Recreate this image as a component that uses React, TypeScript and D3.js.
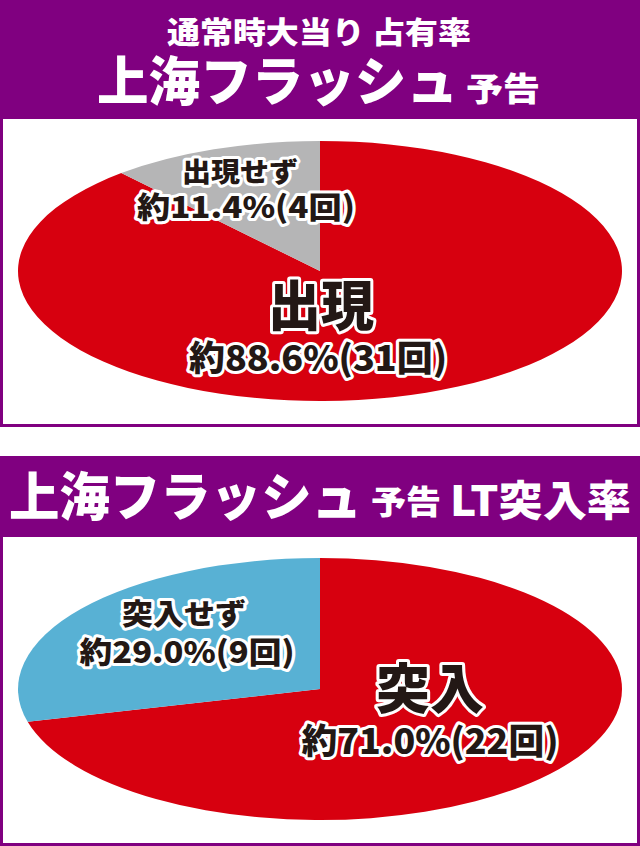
import React from "react";
import * as d3 from "d3";

const W = 640;
const H = 846;

const pie1Labels = ["出現", "出現せず"];
const pie1Values = [31, 4];
const pie1Pct = ["約88.6%(31回)", "約11.4%(4回)"];
const pie1Colors = ["#d7000f", "#b5b5b6"];

const pie2Labels = ["突入", "突入せず"];
const pie2Values = [22, 9];
const pie2Pct = ["約71.0%(22回)", "約29.0%(9回)"];
const pie2Colors = ["#d7000f", "#58b1d4"];

const PURPLE = "#800080";
const FONT = "'Noto Sans CJK JP', 'Noto Sans', sans-serif";
const DY = -3;

type Lbl = { text: string; cx: number; cy: number; size: number; len: number };

function OutlinedText({ text, cx, cy, size, len }: Lbl) {
  return (
    <text
      x={cx - len / 2}
      y={cy + DY}
      textLength={len}
      lengthAdjust="spacingAndGlyphs"
      dominantBaseline="central"
      fontFamily={FONT}
      fontWeight={900}
      fontSize={size}
      fill="#231815"
      stroke="#ffffff"
      strokeWidth={6}
      strokeLinejoin="round"
      paintOrder="stroke"
    >
      {text}
    </text>
  );
}

function HeaderText({ text, x0, x1, cy, size }: { text: string; x0: number; x1: number; cy: number; size: number }) {
  return (
    <text
      x={x0}
      y={cy + DY}
      textLength={x1 - x0}
      lengthAdjust="spacingAndGlyphs"
      dominantBaseline="central"
      fontFamily={FONT}
      fontWeight={900}
      fontSize={size}
      fill="#ffffff"
    >
      {text}
    </text>
  );
}

function Pie({
  values,
  colors,
  cx,
  cy,
  rx,
  ry,
}: {
  values: number[];
  colors: string[];
  cx: number;
  cy: number;
  rx: number;
  ry: number;
}) {
  const arcs = d3.pie<number>().sort(null).value((d) => d)(values);
  const arc = d3.arc<d3.PieArcDatum<number>>().innerRadius(0).outerRadius(rx);
  return (
    <g transform={`translate(${cx},${cy}) scale(1,${ry / rx})`}>
      {arcs.map((a, i) => (
        <path key={i} d={arc(a) || ""} fill={colors[i]} />
      ))}
    </g>
  );
}

export default function App() {
  return (
    <svg width={W} height={H} style={{ position: "absolute", left: 0, top: 0 }}>
      <rect x={0} y={0} width={W} height={H} fill="#ffffff" />
      {/* Panel 1 */}
      <rect x={0} y={0} width={W} height={427} fill={PURPLE} />
      <rect x={3} y={119} width={634} height={305} fill="#ffffff" />
      <HeaderText text="通常時大当り 占有率" x0={167} x1={471} cy={33} size={30} />
      <HeaderText text="上海フラッシュ" x0={97} x1={458} cy={81} size={53} />
      <HeaderText text="予告" x0={466} x1={540} cy={90} size={33} />
      <Pie values={pie1Values} colors={pie1Colors} cx={320} cy={271} rx={302} ry={130} />
      <OutlinedText text={pie1Labels[1]} cx={240} cy={173} size={27} len={116} />
      <OutlinedText text={pie1Pct[1]} cx={246} cy={208} size={30} len={218} />
      <OutlinedText text={pie1Labels[0]} cx={321} cy={305} size={54} len={106} />
      <OutlinedText text={pie1Pct[0]} cx={318} cy={358} size={35} len={258} />

      {/* Panel 2 */}
      <rect x={0} y={456} width={W} height={H - 456} fill={PURPLE} />
      <rect x={3} y={537} width={634} height={306} fill="#ffffff" />
      <HeaderText text="上海フラッシュ" x0={9} x1={362} cy={496} size={52} />
      <HeaderText text="予告" x0={371} x1={441} cy={503} size={33} />
      <HeaderText text="LT突入率" x0={450} x1={631} cy={500} size={42} />
      <Pie values={pie2Values} colors={pie2Colors} cx={320} cy={689} rx={302} ry={131} />
      <OutlinedText text={pie2Labels[1]} cx={184} cy={615} size={29} len={124} />
      <OutlinedText text={pie2Pct[1]} cx={187} cy={653} size={30} len={215} />
      <OutlinedText text={pie2Labels[0]} cx={430} cy={688} size={54} len={108} />
      <OutlinedText text={pie2Pct[0]} cx={430} cy={741} size={35} len={257} />
    </svg>
  );
}
